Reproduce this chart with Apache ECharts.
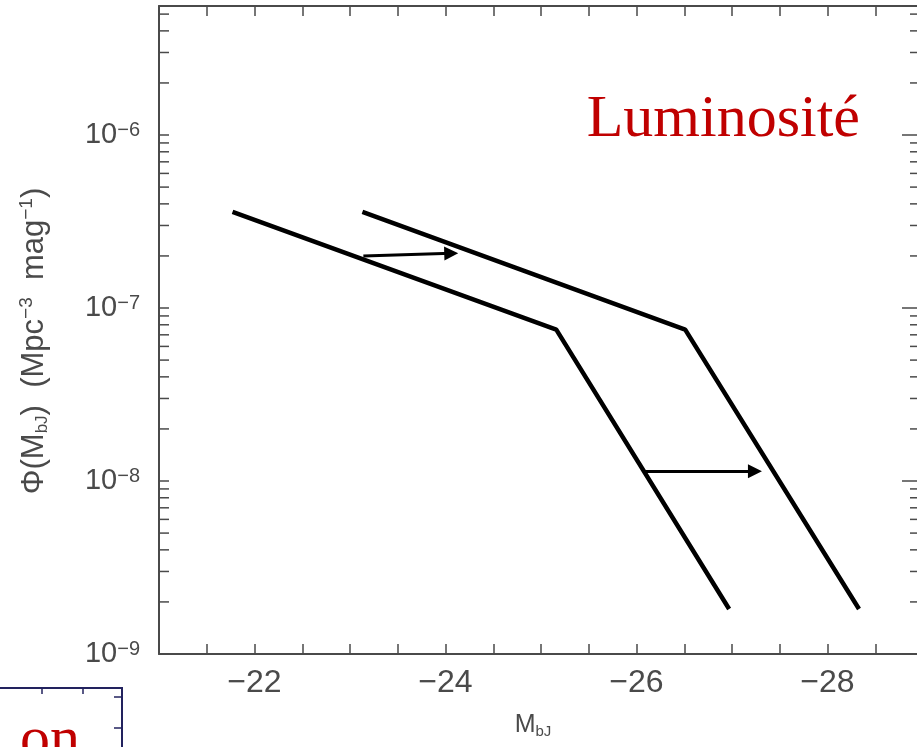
<!DOCTYPE html>
<html lang="fr">
<head>
  <meta charset="UTF-8">
  <title>Luminosité</title>
  <script src="https://cdn.jsdelivr.net/npm/echarts@6.0.0/dist/echarts.min.js"></script>
  <style>
    * { margin: 0; padding: 0; }
    html, body { width: 100%; height: 100%; background: #fff; }
    #chart { width: 917px; height: 747px; }
  </style>
</head>
<body>
<div id="chart"></div>
<script>
  // fonction de luminosité : avant / après décalage
  var magBefore = [-21.77, -25.16, -26.97];
  var phiBefore = [3.6e-7, 7.5e-8, 1.82e-9];
  var magAfter = [-23.13, -26.51, -28.33];
  var phiAfter = [3.6e-7, 7.5e-8, 1.82e-9];

  // flèches [départ, arrivée]
  var arrowMag = [[-23.14, -24.06], [-26.07, -27.24]];
  var arrowPhi = [[2.0e-7, 2.07e-7], [1.14e-8, 1.14e-8]];

  // graduations
  var xLabels = [-22, -24, -26, -28];
  var yDecades = [-9, -8, -7, -6];

  var xMin = -29, xMax = -21;
  var yMin = 1e-9, yMax = 5.57e-6;
  var axisColor = '#4a4a4a';

  // petites graduations logarithmiques (2..9 x 10^n)
  var minorTicks = [];
  yDecades.forEach(function (d) {
    for (var k = 2; k <= 9; k++) {
      var v = k * Math.pow(10, d);
      if (v < yMax) minorTicks.push([xMax, v]);
    }
  });

  function pairs(xs, ys) {
    return xs.map(function (x, i) { return [x, ys[i]]; });
  }

  var chart = echarts.init(document.getElementById('chart'));

  var xAxisBase = {
    type: 'value',
    min: xMin,
    max: xMax,
    interval: 0.5,
    inverse: true,
    splitLine: { show: false },
    axisLine: { lineStyle: { color: axisColor, width: 2 } },
    axisTick: { inside: true, length: 10, lineStyle: { color: axisColor, width: 1.5 } }
  };

  var yAxisBase = {
    type: 'log',
    logBase: 10,
    min: yMin,
    max: yMax,
    splitLine: { show: false },
    axisLine: { show: true, lineStyle: { color: axisColor, width: 2 } }
  };

  var option = {
    animation: false,
    backgroundColor: '#fff',
    grid: { left: 159, right: -6, top: 6, bottom: 93, outerBoundsMode: 'none' },
    xAxis: [
      Object.assign({}, xAxisBase, {
        position: 'bottom',
        name: '{m|M}{s|bJ}',
        nameLocation: 'middle',
        nameGap: 57,
        nameTextStyle: {
          padding: [0, 16, 0, 0],
          rich: {
            m: { fontFamily: 'Liberation Sans', fontSize: 25, color: axisColor, lineHeight: 28 },
            s: { fontFamily: 'Liberation Sans', fontSize: 15, color: axisColor, lineHeight: 14, verticalAlign: 'bottom' }
          }
        },
        axisLabel: {
          margin: 13,
          fontFamily: 'Liberation Sans',
          fontSize: 32,
          color: axisColor,
          formatter: function (v) {
            var r = Math.round(v);
            if (Math.abs(v - r) > 1e-6 || xLabels.indexOf(r) < 0) return '';
            return '\u2212' + Math.abs(r);
          }
        }
      }),
      Object.assign({}, xAxisBase, {
        position: 'top',
        axisLabel: { show: false }
      })
    ],
    yAxis: [
      Object.assign({}, yAxisBase, {
        position: 'left',
        axisTick: { inside: true, length: 10, lineStyle: { color: axisColor, width: 1.5 } },
        name: '{n|\u03a6(M}{sub|bJ}{n|)  (Mpc}{sup|\u22123}{n|  mag}{sup|\u22121}{n|)}',
        nameLocation: 'middle',
        nameRotate: 90,
        nameGap: 108,
        nameTextStyle: {
          padding: [0, 22, 0, 0],
          rich: {
            n: { fontFamily: 'Liberation Sans', fontSize: 31, color: axisColor, lineHeight: 34 },
            sub: { fontFamily: 'Liberation Sans', fontSize: 17, color: axisColor, lineHeight: 16, verticalAlign: 'bottom' },
            sup: { fontFamily: 'Liberation Sans', fontSize: 19, color: axisColor, lineHeight: 19, verticalAlign: 'top' }
          }
        },
        axisLabel: {
          margin: 19,
          formatter: function (v) {
            var e = Math.round(Math.log(v) / Math.LN10);
            if (yDecades.indexOf(e) < 0 || Math.abs(v / Math.pow(10, e) - 1) > 1e-6) return '';
            return '{b|10}{e|\u2212' + Math.abs(e) + '}';
          },
          rich: {
            b: { fontFamily: 'Liberation Sans', fontSize: 29, color: axisColor, lineHeight: 30 },
            e: { fontFamily: 'Liberation Sans', fontSize: 20, color: axisColor, lineHeight: 20, verticalAlign: 'top' }
          }
        }
      }),
      Object.assign({}, yAxisBase, {
        position: 'right',
        axisTick: { inside: true, length: 21, lineStyle: { color: axisColor, width: 1.5 } },
        axisLabel: { show: false }
      })
    ],
    series: [
      {
        type: 'line',
        data: pairs(magBefore, phiBefore),
        symbol: 'none',
        silent: true,
        lineStyle: { color: '#000', width: 4.5 }
      },
      {
        type: 'line',
        data: pairs(magAfter, phiAfter),
        symbol: 'none',
        silent: true,
        lineStyle: { color: '#000', width: 4.5 }
      },
      {
        type: 'lines',
        coordinateSystem: 'cartesian2d',
        silent: true,
        symbol: ['none', 'triangle'],
        symbolSize: [10, 14],
        lineStyle: { color: '#000', width: 3, opacity: 1 },
        data: arrowMag.map(function (m, i) {
          return { coords: [[m[0], arrowPhi[i][0]], [m[1], arrowPhi[i][1]]] };
        })
      },
      {
        // petites graduations gauche / droite
        type: 'custom',
        silent: true,
        data: minorTicks,
        renderItem: function (params, api) {
          var v = api.value(1);
          var l = api.coord([xMax, v]);
          var r = api.coord([xMin, v]);
          var st = { stroke: axisColor, lineWidth: 1.5 };
          return {
            type: 'group',
            children: [
              { type: 'line', shape: { x1: l[0], y1: l[1], x2: l[0] + 10, y2: l[1] }, style: st },
              { type: 'line', shape: { x1: r[0] - 13, y1: r[1], x2: r[0], y2: r[1] }, style: st }
            ]
          };
        }
      }
    ],
    graphic: [
      {
        type: 'text',
        x: 860, y: 120,
        style: {
          text: 'Luminosité',
          fill: '#c00000',
          font: '60px "Liberation Serif"',
          textAlign: 'right',
          textVerticalAlign: 'middle'
        }
      },
      // encart en bas à gauche
      {
        type: 'polyline',
        shape: { points: [[0, 688], [122, 688], [122, 747]] },
        style: { stroke: '#22225e', lineWidth: 2, fill: null }
      },
      { type: 'line', shape: { x1: 42, y1: 688, x2: 42, y2: 694 }, style: { stroke: '#22225e', lineWidth: 1.5 } },
      { type: 'line', shape: { x1: 83, y1: 688, x2: 83, y2: 694 }, style: { stroke: '#22225e', lineWidth: 1.5 } },
      { type: 'line', shape: { x1: 114, y1: 697, x2: 122, y2: 697 }, style: { stroke: '#22225e', lineWidth: 1.5 } },
      { type: 'line', shape: { x1: 114, y1: 728, x2: 122, y2: 728 }, style: { stroke: '#22225e', lineWidth: 1.5 } },
      {
        type: 'text',
        x: 20, y: 741,
        style: {
          text: 'on',
          fill: '#c00000',
          font: '60px "Liberation Serif"',
          textAlign: 'left',
          textVerticalAlign: 'middle'
        }
      }
    ]
  };

  chart.setOption(option);
</script>
</body>
</html>
